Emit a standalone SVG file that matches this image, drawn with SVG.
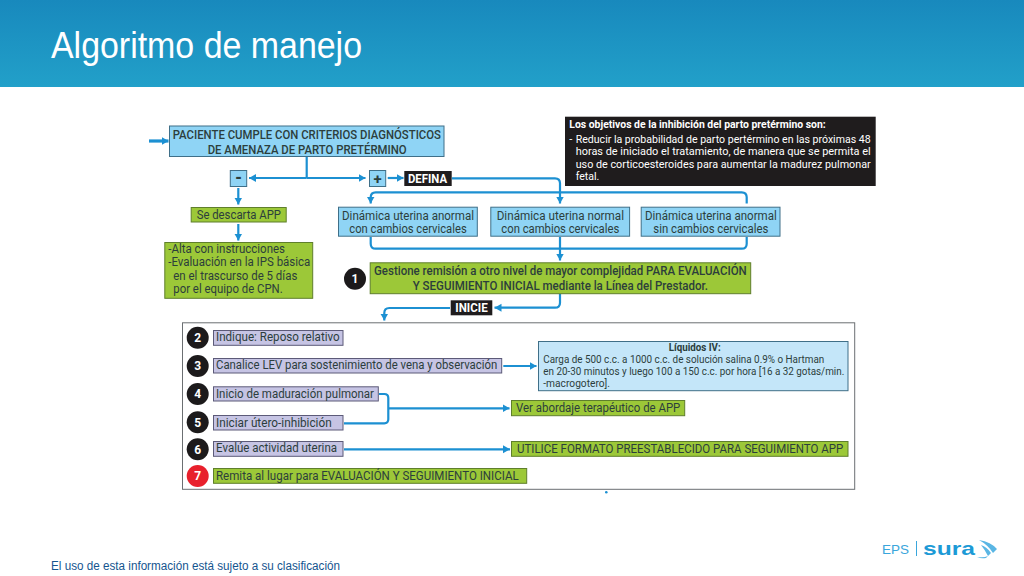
<svg xmlns="http://www.w3.org/2000/svg" width="1024" height="576" viewBox="0 0 1024 576">
<style>
text{font-family:"Roboto","Liberation Sans",sans-serif;fill:#2c3e3c;font-size:12px}
.blue{fill:#8fd4f5;stroke:#3f6f88;stroke-width:1}
.green{fill:#9cc838;stroke:#5f7f2c;stroke-width:1}
.lilac{fill:#c6c4e4;stroke:#5c5a78;stroke-width:1}
.pale{fill:#c4e6f9;stroke:#3f6f88;stroke-width:1}
.black{fill:#1f1c1d}
.w{fill:#fff;font-weight:700}
.n{fill:#fff;font-weight:700;font-size:12px;text-anchor:middle}
.s{font-size:11px}
.o{fill:#fff}
.c{fill:none;stroke:#1c90d2;stroke-width:2.2}
.a{marker-end:url(#arr)}
.disc{fill:#1c1a1b}
</style>
<defs>
<linearGradient id="hdr" x1="0" y1="0" x2="0" y2="1"><stop offset="0" stop-color="#1889bd"/><stop offset="1" stop-color="#22a0c9"/></linearGradient>
<marker id="arr" markerUnits="userSpaceOnUse" markerWidth="8" markerHeight="9" refX="7" refY="4.5" orient="auto"><path d="M0 0.5L7 4.5L0 8.5Z" fill="#1c90d2"/></marker>
</defs>
<rect width="1024" height="576" fill="#fff"/>
<g id="header"><rect width="1024" height="87" fill="url(#hdr)"/>
<text x="51" y="58" textLength="311" lengthAdjust="spacingAndGlyphs" style="font-family:'Liberation Sans',sans-serif;font-size:36px;fill:#fff">Algoritmo de manejo</text></g>
<g id="footer"><text x="51" y="570" textLength="289" lengthAdjust="spacingAndGlyphs" style="font-family:'Liberation Sans',sans-serif;font-size:12.5px;fill:#14558f">El uso de esta información está sujeto a su clasificación</text></g>
<g id="logo">
<text x="882" y="554" textLength="27" lengthAdjust="spacingAndGlyphs" style="font-family:'Liberation Sans',sans-serif;font-size:13px;fill:#3aa6dc">EPS</text>
<rect x="916" y="541" width="1" height="15" fill="#3aa6dc"/>
<text x="923" y="555" textLength="52" lengthAdjust="spacingAndGlyphs" style="font-family:'Liberation Sans',sans-serif;font-size:19px;font-weight:700;fill:#1c9ad6">sura</text>
<path d="M979 540Q991 542 997 549L993 553Q988 545 979 540ZM981 545Q987 547 991 553L988 556Q985 550 981 545ZM977 557Q984 558 988 556L986 558Q981 559 977 557Z" fill="#5ab6e4"/>
</g>
<g id="connectors">
<path class="c a" style="stroke-width:3.2" d="M149 141H168.5"/>
<path class="c" d="M306.7 157V178"/>
<path class="c a" d="M306.7 178H249"/>
<path class="c a" d="M306.7 178H365.5"/>
<path class="c a" d="M387.7 178H403.5"/>
<path class="c a" d="M452 178.3H555Q560 178.3 560 183.3V203.5"/>
<path class="c a" d="M746.7 203.5V197.3Q746.7 192.3 741.7 192.3H375.7Q370.7 192.3 370.7 197.3V203.5"/>
<path class="c" d="M370.7 237V243.7Q370.7 248.7 375.7 248.7H741.7Q746.7 248.7 746.7 243.7V237"/>
<path class="c a" d="M560 237V260.5"/>
<path class="c a" d="M238.3 188V204.5"/>
<path class="c a" d="M238.3 224V240.5"/>
<path class="c a" d="M560 294V302.7Q560 307.7 555 307.7H494.5"/>
<path class="c a" d="M450 308H389.3Q384.3 308 384.3 313V320.5"/>
<path class="c a" d="M503.3 366H536.5"/>
<path class="c" d="M379 394H384.3Q388.3 394 388.3 398V419.3Q388.3 423.3 384.3 423.3H344"/>
<path class="c a" d="M388.3 408.3H509.5"/>
<path class="c a" d="M344 449.3H510"/>
<circle cx="606.3" cy="492.3" r="1.3" fill="#1c90d2"/>
</g>
<g id="n-paciente"><rect class="blue" x="169.5" y="126" width="274.5" height="30.5"/>
<text x="172.7" y="138.7" textLength="268.3" lengthAdjust="spacingAndGlyphs" style="font-weight:500">PACIENTE CUMPLE CON CRITERIOS DIAGNÓSTICOS</text>
<text x="207.7" y="153.7" textLength="199" lengthAdjust="spacingAndGlyphs" style="font-weight:500">DE AMENAZA DE PARTO PRETÉRMINO</text></g>
<g id="n-menos"><rect class="blue" x="230.3" y="170.5" width="16.4" height="16"/><text x="238.5" y="183" text-anchor="middle" style="font-weight:900;font-size:16px">-</text></g>
<g id="n-mas"><rect class="blue" x="369.5" y="170.5" width="16.2" height="16"/><text x="377.6" y="183.5" text-anchor="middle" style="font-weight:700;font-size:15px">+</text></g>
<g id="n-defina"><rect class="black" x="404.3" y="171" width="47.4" height="15"/><text class="w" x="408" y="182.7" textLength="39" lengthAdjust="spacingAndGlyphs">DEFINA</text></g>
<g id="n-descarta"><rect class="green" x="191.2" y="207.5" width="95" height="14.5"/><text x="196.7" y="218.7" textLength="84.3" lengthAdjust="spacingAndGlyphs">Se descarta APP</text></g>
<g id="n-alta"><rect class="green" x="164.8" y="242.5" width="147.9" height="55.8"/>
<text x="168.3" y="253.3" textLength="116.7" lengthAdjust="spacingAndGlyphs">-Alta con instrucciones</text>
<text x="168.3" y="266.3" textLength="142" lengthAdjust="spacingAndGlyphs">-Evaluación en la IPS básica</text>
<text x="173.3" y="280" textLength="124" lengthAdjust="spacingAndGlyphs">en el trascurso de 5 días</text>
<text x="173.3" y="293.3" textLength="109.4" lengthAdjust="spacingAndGlyphs">por el equipo de CPN.</text></g>
<g id="n-din1"><rect class="blue" x="338.5" y="207.2" width="138.8" height="29"/>
<text x="342" y="219.7" textLength="132" lengthAdjust="spacingAndGlyphs">Dinámica uterina anormal</text>
<text x="349.3" y="233" textLength="117.4" lengthAdjust="spacingAndGlyphs">con cambios cervicales</text></g>
<g id="n-din2"><rect class="blue" x="490.8" y="207.2" width="138.8" height="29"/>
<text x="496.7" y="219.7" textLength="127.3" lengthAdjust="spacingAndGlyphs">Dinámica uterina normal</text>
<text x="501.3" y="233" textLength="118" lengthAdjust="spacingAndGlyphs">con cambios cervicales</text></g>
<g id="n-din3"><rect class="blue" x="641.2" y="207.2" width="138.8" height="29"/>
<text x="645" y="219.7" textLength="131.7" lengthAdjust="spacingAndGlyphs">Dinámica uterina anormal</text>
<text x="653.3" y="233" textLength="115" lengthAdjust="spacingAndGlyphs">sin cambios cervicales</text></g>
<g id="n-objetivos"><rect class="black" x="565" y="116.7" width="310.7" height="69.3"/>
<text class="w s" x="569.3" y="128.3" textLength="256.4" lengthAdjust="spacingAndGlyphs">Los objetivos de la inhibición del parto pretérmino son:</text>
<text class="s o" x="569.3" y="142.7">-</text>
<text class="s o" x="575.7" y="142.7" textLength="295" lengthAdjust="spacingAndGlyphs">Reducir la probabilidad de parto pertérmino en las próximas 48</text>
<text class="s o" x="575.7" y="155.3" textLength="295" lengthAdjust="spacingAndGlyphs">horas de iniciado el tratamiento, de manera que se permita el</text>
<text class="s o" x="575.7" y="167.7" textLength="295" lengthAdjust="spacingAndGlyphs">uso de corticoesteroides para aumentar la madurez pulmonar</text>
<text class="s o" x="575.7" y="180.3" textLength="23.6" lengthAdjust="spacingAndGlyphs">fetal.</text></g>
<g id="n-1"><circle class="disc" cx="355" cy="278.7" r="11"/><text class="n" x="355" y="283">1</text></g>
<g id="n-gestione"><rect class="green" x="370.2" y="262.8" width="380.5" height="30.9"/>
<text x="374" y="275" textLength="372.7" lengthAdjust="spacingAndGlyphs" style="font-weight:500">Gestione remisión a otro nivel de mayor complejidad PARA EVALUACIÓN</text>
<text x="412.7" y="289.7" textLength="295.3" lengthAdjust="spacingAndGlyphs" style="font-weight:500">Y SEGUIMIENTO INICIAL mediante la Línea del Prestador.</text></g>
<g id="n-inicie"><rect class="black" x="450.7" y="300.3" width="41.6" height="15"/><text class="w" x="455.3" y="312" textLength="32.4" lengthAdjust="spacingAndGlyphs">INICIE</text></g>
<g id="n-marco"><rect x="182.5" y="322.8" width="672.2" height="166.5" fill="none" stroke="#6b6f72" stroke-width="1"/></g>
<g id="n-2"><circle class="disc" cx="197.7" cy="337.7" r="11"/><text class="n" x="197.7" y="342">2</text>
<rect class="lilac" x="213.5" y="330.5" width="129.5" height="14.8"/><text x="216" y="341" textLength="123.7" lengthAdjust="spacingAndGlyphs">Indique: Reposo relativo</text></g>
<g id="n-3"><circle class="disc" cx="197.7" cy="366" r="11"/><text class="n" x="197.7" y="370.3">3</text>
<rect class="lilac" x="213.5" y="358.5" width="288.2" height="14.5"/><text x="216" y="369" textLength="281.3" lengthAdjust="spacingAndGlyphs">Canalice LEV para sostenimiento de vena y observación</text></g>
<g id="n-4"><circle class="disc" cx="197.7" cy="394" r="11"/><text class="n" x="197.7" y="398.3">4</text>
<rect class="lilac" x="213.5" y="386.8" width="164.8" height="14.2"/><text x="216" y="397.7" textLength="158" lengthAdjust="spacingAndGlyphs">Inicio de maduración pulmonar</text></g>
<g id="n-5"><circle class="disc" cx="197.7" cy="422.3" r="11"/><text class="n" x="197.7" y="426.6">5</text>
<rect class="lilac" x="213.5" y="415.5" width="129.5" height="14.5"/><text x="216" y="426.7" textLength="115.7" lengthAdjust="spacingAndGlyphs">Iniciar útero-inhibición</text></g>
<g id="n-6"><circle class="disc" cx="197.7" cy="449.3" r="11"/><text class="n" x="197.7" y="453.6">6</text>
<rect class="lilac" x="213.5" y="441.5" width="129.5" height="14.8"/><text x="216" y="452" textLength="121" lengthAdjust="spacingAndGlyphs">Evalúe actividad uterina</text></g>
<g id="n-7"><circle cx="197.7" cy="476" r="11" fill="#e8202c"/><text class="n" x="197.7" y="480.3">7</text>
<rect class="green" x="213.5" y="468.5" width="313.2" height="14.8"/><text x="216" y="479.7" textLength="302.7" lengthAdjust="spacingAndGlyphs">Remita al lugar para EVALUACIÓN Y SEGUIMIENTO INICIAL</text></g>
<g id="n-liquidos"><rect class="pale" x="538.5" y="341.5" width="309.5" height="49.2"/>
<text class="s" x="668.7" y="351" textLength="52" lengthAdjust="spacingAndGlyphs" style="font-size:10.5px;font-weight:700">Líquidos IV:</text>
<text class="s" x="543.3" y="362.8" textLength="281" lengthAdjust="spacingAndGlyphs">Carga de 500 c.c. a 1000 c.c. de solución salina 0.9% o Hartman</text>
<text class="s" x="543.3" y="375" textLength="301" lengthAdjust="spacingAndGlyphs">en 20-30 minutos y luego 100 a 150 c.c. por hora [16 a 32 gotas/min.</text>
<text class="s" x="543.3" y="387" textLength="66.7" lengthAdjust="spacingAndGlyphs">-macrogotero].</text></g>
<g id="n-ver"><rect class="green" x="511.5" y="400.5" width="173.2" height="15.2"/><text x="516" y="411.5" textLength="164.3" lengthAdjust="spacingAndGlyphs">Ver abordaje terapéutico de APP</text></g>
<g id="n-utilice"><rect class="green" x="511.5" y="441.5" width="336.5" height="14.8"/><text x="517" y="452.7" textLength="326.3" lengthAdjust="spacingAndGlyphs">UTILICE FORMATO PREESTABLECIDO PARA SEGUIMIENTO APP</text></g>
</svg>
